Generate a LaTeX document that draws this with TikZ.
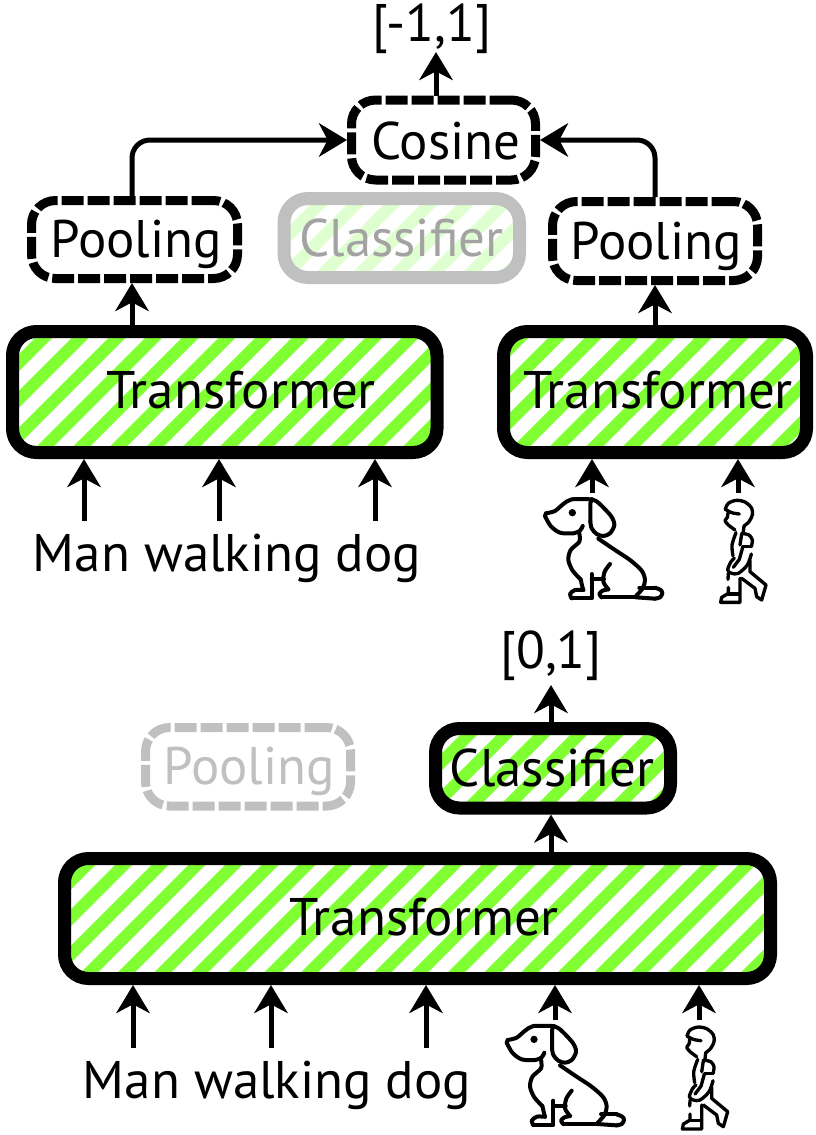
\documentclass[tikz,border=0pt]{standalone}
\usepackage{fontspec}
\setmainfont{PT Sans}
\usetikzlibrary{arrows.meta}
\definecolor{stripegreen}{HTML}{80FF33}
\definecolor{stripepale}{HTML}{DFFFD0}
\definecolor{ghost}{HTML}{C0C0C0}
\definecolor{ghosttext}{HTML}{A3A3A3}
\newcommand\stripefill[3]{%
  \begin{scope}[shift={(path picture bounding box.center)}]
    \pgfmathtruncatemacro\nbase{round((#2-#3)/36.67)}
    \foreach \k in {-16,...,16}{
      \pgfmathsetmacro\dd{#3+(\nbase+\k)*36.67-#2}
      \fill[#1] ({\dd+150},-150) -- ({\dd+17+150},-150) -- ({\dd+17-150},150) -- ({\dd-150},150) -- cycle;
    }
  \end{scope}}
\newcommand\plainbox[6]{%
  \node[#1,minimum width={(#5-#3)*0.75pt},minimum height={(#6-#4)*0.75pt}] (#2) at ({(#3+#5)/2},{(#4+#6)/2}) {};}
\newcommand\stripebox[8]{%
  \pgfmathsetmacro\sumc{(#3+#5+#4+#6)/2}
  \node[#1,minimum width={(#5-#3)*0.75pt},minimum height={(#6-#4)*0.75pt},
    path picture={\stripefill{#7}{\sumc}{#8}}] (#2) at ({(#3+#5)/2},{(#4+#6)/2}) {};}
\tikzset{
  solidbox/.style={draw=black,line width=9.75pt,rounded corners=18pt,inner sep=0pt,fill=white},
  ghostbox/.style={solidbox,draw=ghost},
  dashbox/.style={draw=black,line width=6.75pt,rounded corners=18pt,inner sep=0pt,dash pattern=on 16.5pt off 3pt},
  ghostdash/.style={dashbox,draw=ghost},
  arr/.style={draw=black,line width=3.75pt,-{Stealth[length=21pt,width=25pt,inset=6.5pt]}},
  txt/.style={anchor=base,inner sep=0pt,font=\fontsize{39.7}{41}\selectfont},
  icon/.style={line width=3pt,line join=round,line cap=round},
  thinicon/.style={line width=2.5pt,line join=round,line cap=round}
}
\tikzset{
  dogicon/.pic={
    \begin{scope}[x=0.25pt,y=-0.25pt,icon]
      \draw plot[smooth,tension=.45] coordinates {(48,220)(75,213)(100,192)(125,178)(185,178)};
      \draw (48,220) -- (45,228);
      \draw plot[smooth,tension=.5] coordinates {(185,178)(205,188)(243,228)(253,255)(240,280)(220,288)(200,282)(185,265)(181,245)};
      \draw (181,245) -- (181,190) -- (185,178);
      \draw plot[smooth,tension=.5] coordinates {(45,228)(62,258)(90,278)(130,280)(150,272)(158,258)};
      \draw plot[smooth,tension=.5] coordinates {(148,280)(148,305)(122,330)(115,360)(128,392)(152,418)};
      \draw plot[smooth,tension=.5] coordinates {(152,418)(157,440)(160,450)};
      \draw plot[smooth,tension=.5] coordinates {(160,450)(135,450)(120,462)(125,475)};
      \draw (125,475) -- (185,475) -- (185,402);
      \draw (185,418) -- (222,418);
      \draw plot[smooth,tension=.5] coordinates {(205,296)(255,330)(300,360)(335,392)(345,420)(338,445)(318,468)};
      \draw plot[smooth,tension=.5] coordinates {(240,372)(224,395)(220,425)(235,448)};
      \draw plot[smooth,tension=.5] coordinates {(235,448)(218,452)(208,462)(215,472)};
      \draw (215,472) -- (318,472);
      \draw (328,443) -- (375,443);
      \draw plot[smooth,tension=.5] coordinates {(375,443)(392,450)(397,460)(390,472)(375,476)};
      \draw (375,476) -- (318,472);
      \fill (127,218) circle (11);
    \end{scope}}
}
\tikzset{
  manicon/.pic={
    \begin{scope}[x=0.25pt,y=-0.25pt,thinicon]
      \draw plot[smooth,tension=.55] coordinates {(76,58)(85,40)(110,31)(137,37)(155,55)(157,75)(147,95)(132,108)};
      \draw plot[smooth,tension=.5] coordinates {(76,58)(95,68)(118,72)};
      \draw plot[smooth,tension=.4] coordinates {(84,68)(82,82)(75,92)(85,105)(105,120)};
      \draw (132,108) -- (130,126);
      \draw plot[smooth,tension=.5] coordinates {(108,128)(96,165)(99,198)};
      \draw plot[smooth,tension=.5] coordinates {(125,130)(147,135)(157,150)(154,170)};
      \draw (154,170) -- (128,170);
      \draw (125,132) -- (120,165);
      \draw plot[smooth,tension=.5] coordinates {(154,192)(142,225)(115,250)(95,250)(83,240)(93,215)(103,205)};
      \draw (128,172) -- (118,208) -- (100,232);
      \draw (150,212) -- (150,245) -- (198,285) -- (185,330) -- (170,320) -- (165,295) -- (125,265);
      \draw (85,250) -- (84,268);
      \draw (85,292) -- (85,310) -- (65,322) -- (62,337) -- (120,337) -- (120,265);
      \draw (85,312) -- (118,312);
    \end{scope}}
}
\begin{document}
\begin{tikzpicture}[x=0.75pt,y=-0.75pt]
\useasboundingbox (0,0) rectangle (816,1135);
% upper half boxes
\plainbox{dashbox}{cos}{351.5}{100}{535.5}{180}
\plainbox{dashbox}{pl}{31.5}{200.5}{237.5}{278.5}
\plainbox{dashbox}{pr}{552.5}{201.5}{757.5}{280.5}
\stripebox{ghostbox}{cg}{284}{198.5}{519.5}{277.5}{stripepale}{515}
\stripebox{solidbox}{tl}{12.5}{331.5}{437}{452.5}{stripegreen}{373}
\stripebox{solidbox}{tr}{503.5}{331.5}{806.5}{452.5}{stripegreen}{886}
% lower half boxes
\plainbox{ghostdash}{pg}{145.5}{727.5}{350.5}{806}
\stripebox{solidbox}{cb}{435.5}{728.5}{670.5}{808}{stripegreen}{1195}
\stripebox{solidbox}{tb}{64.5}{858.5}{770.5}{978.5}{stripegreen}{980}
% labels
\node[txt] (l1) at (432,41) {[-1,1]};
\node[txt] (l2) at (446,159) {Cosine};
\node[txt] (l3) at (136,257) {Pooling};
\node[txt,text=ghosttext] (l4) at (401.5,256) {Classifier};
\node[txt] (l5) at (656,259) {Pooling};
\node[txt] (l6) at (241,408) {Transformer};
\node[txt] (l7) at (658,408) {Transformer};
\node[txt] (l8) at (227,571) {Man walking dog};
\node[txt] (l9) at (551,668) {[0,1]};
\node[txt,text=ghost] (l10) at (249,784) {Pooling};
\node[txt] (l11) at (552,786) {Classifier};
\node[txt] (l12) at (424,935) {Transformer};
\node[txt] (l13) at (277,1098) {Man walking dog};
% free ends
\coordinate (a1) at (84,521);
\coordinate (a2) at (219,521);
\coordinate (a3) at (375,521);
\coordinate (a4) at (592,493);
\coordinate (a5) at (738,493);
\coordinate (b1) at (133,1048);
\coordinate (b2) at (271,1048);
\coordinate (b3) at (426,1048);
\coordinate (b4) at (555,1020);
\coordinate (b5) at (699,1020);
\coordinate (u1) at (436,52);
\coordinate (u2) at (551,685);
\coordinate (xl) at (132,300);
\coordinate (xr) at (655,300);
\coordinate (xc) at (551,800);
\coordinate (xu) at (436,100);
% connectors
\foreach \p in {a1,a2,a3}{\draw[arr] (\p) -- (\p |- tl.south);}
\foreach \p in {a4,a5}{\draw[arr] (\p) -- (\p |- tr.south);}
\foreach \p in {b1,b2,b3,b4,b5}{\draw[arr] (\p) -- (\p |- tb.south);}
\draw[arr] (xl |- tl.north) -- (xl |- pl.south);
\draw[arr] (xr |- tr.north) -- (xr |- pr.south);
\draw[arr] (xc |- tb.north) -- (xc |- cb.south);
\draw[arr] (xc |- cb.north) -- (u2);
\draw[arr] (xu |- cos.north) -- (u1);
\draw[arr,rounded corners=13.5pt] (xl |- pl.north) |- (cos.west);
\draw[arr,rounded corners=13.5pt] (xr |- pr.north) |- (cos.east);
% icons
\pic at (530,440) {dogicon};
\pic at (700,490) {manicon};
\pic at (491.7,966.7) {dogicon};
\pic at (661.7,1016.7) {manicon};
\end{tikzpicture}
\end{document}
